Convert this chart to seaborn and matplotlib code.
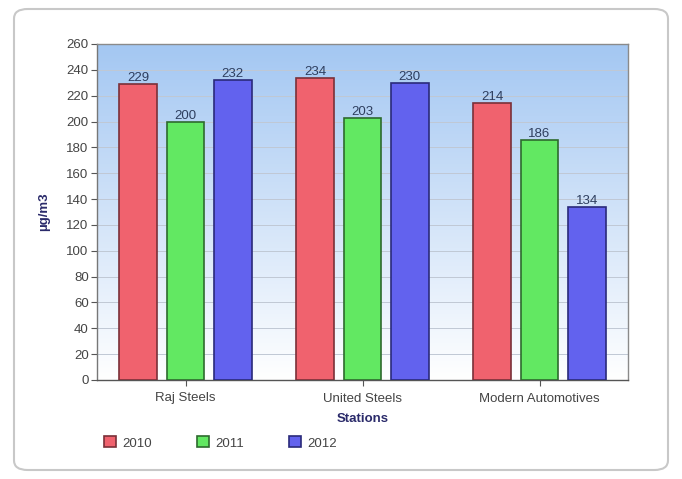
import matplotlib
matplotlib.use("Agg")
import matplotlib.pyplot as plt
import seaborn as sns
import numpy as np
import pandas as pd
from matplotlib.patches import FancyBboxPatch, Patch

stations = ["Raj Steels", "United Steels", "Modern Automotives"]
years = ["2010", "2011", "2012"]
v2010 = [229, 234, 214]
v2011 = [200, 203, 186]
v2012 = [232, 230, 134]
colors = ["#f0626e", "#62e862", "#6262ee"]
edges = ["#7a3038", "#2e6a2e", "#2a2a7a"]

rows = []
for yr, vals in zip(years, [v2010, v2011, v2012]):
    for s, v in zip(stations, vals):
        rows.append({"Station": s, "Year": yr, "Value": v})
df = pd.DataFrame(rows)

sns.set_theme(style="white")
plt.rcParams['font.family'] = ['Liberation Sans', 'DejaVu Sans']

fig = plt.figure(figsize=(6.82, 4.79), dpi=100)
fig.patch.set_facecolor("white")
card = FancyBboxPatch((14/682, 9/479), 654/682, 461/479,
                      boxstyle="round,pad=0,rounding_size=0.02",
                      transform=fig.transFigure, facecolor="white",
                      edgecolor="#c8c8c8", linewidth=1.5, zorder=0)
fig.patches.append(card)

ax = fig.add_axes([97/682, (479-380)/479, (628-97)/682, (380-44)/479])
ax.set_zorder(1)

# gradient background
top = np.array([0.64, 0.78, 0.95])
bot = np.array([1.0, 1.0, 1.0])
cols = np.zeros((256, 1, 3))
for i in range(256):
    t = i / 255.0  # 0 at top
    cols[i, 0, :] = top * (1 - t) + bot * t
ax.imshow(cols, extent=[0, 1, 0, 1], transform=ax.transAxes, aspect="auto", zorder=0)

sns.barplot(data=df, x="Station", y="Value", hue="Year", palette=colors,
            ax=ax, gap=0.2, saturation=1, legend=False, zorder=3)

for ci, cont in enumerate(ax.containers):
    for bar in cont:
        bar.set_edgecolor(edges[ci])
        bar.set_linewidth(1.2)
    ax.bar_label(cont, padding=0, fontsize=9.5, color="#2e3e5e")

ax.set_ylim(0, 260)
ax.set_xlim(-0.5, 2.5)
ax.set_yticks(range(0, 261, 20))
ax.yaxis.grid(True, color="#c0c8d4", linewidth=0.7)
ax.set_axisbelow(True)
for sp in ax.spines.values():
    sp.set_color("#8a8a8a")
    sp.set_linewidth(1.0)
ax.spines["left"].set_color("#777777")
ax.spines["bottom"].set_color("#555555")
ax.tick_params(axis="both", labelsize=9.5, colors="#555555", length=4, width=0.8,
               direction="out", pad=2, left=True, bottom=True)
ax.tick_params(axis="x", pad=5)
for lbl in ax.get_xticklabels() + ax.get_yticklabels():
    lbl.set_color("#444444")
ax.set_xlabel("Stations", fontsize=9.5, fontweight="bold", color="#2a2a6a", labelpad=6)
ax.set_ylabel("µg/m3", fontsize=9.5, fontweight="bold", color="#2a2a6a", labelpad=12)

handles = [Patch(facecolor=c, edgecolor=e, linewidth=1.2) for c, e in zip(colors, edges)]
fig.legend(handles, years, loc="center left", bbox_to_anchor=(92/682, 1 - 443/479),
           ncol=3, frameon=False, fontsize=9.5, handlelength=0.9, handleheight=0.9,
           columnspacing=3.4, handletextpad=0.5, labelcolor="#444444")

fig.savefig("out.png", dpi=100)
